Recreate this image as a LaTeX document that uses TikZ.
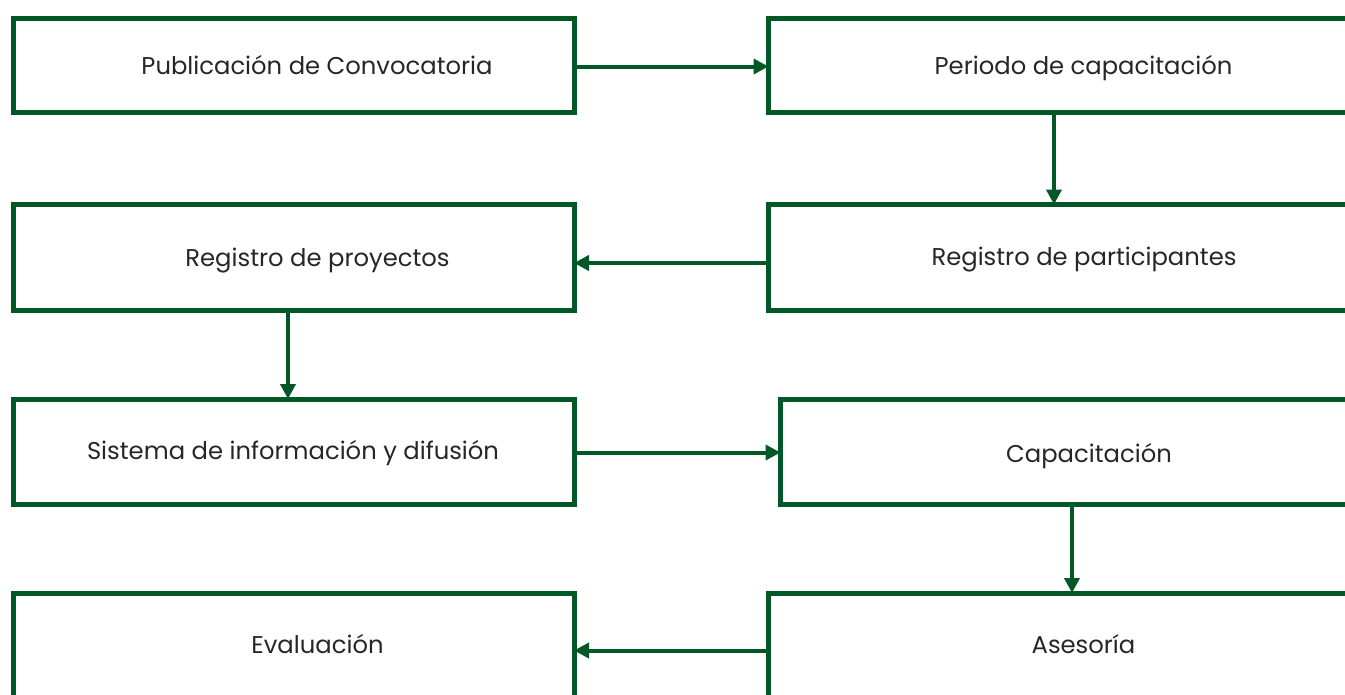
\documentclass[tikz,border=0pt]{standalone}
\usepackage{fontspec}
\setmainfont{Poppins}
\usetikzlibrary{arrows.meta}
\definecolor{dgreen}{RGB}{0,88,38}
\definecolor{txt}{RGB}{38,38,38}
\begin{document}
\begin{tikzpicture}[x=0.75pt,y=-0.75pt,
  box/.style={draw=dgreen,line width=3.75pt,rectangle,outer sep=0pt,inner sep=0pt},
  lbl/.style={text=txt,anchor=base,inner sep=0pt,font=\fontsize{18.2pt}{20pt}\selectfont},
  arr/.style={draw=dgreen,line width=3pt,-{Triangle[length=11.25pt,width=11.25pt]}}]
\useasboundingbox (0,0) rectangle (1345,694);
\clip (0,0) rectangle (1345,694);
\node[box,minimum width=420.375pt,minimum height=70.5pt] (A) at (293.75,65) {};
\node[box,minimum width=473.625pt,minimum height=70.5pt] (B) at (1084.25,65) {};
\node[box,minimum width=473.625pt,minimum height=79.5pt] (C) at (1084.25,257.5) {};
\node[box,minimum width=420.375pt,minimum height=79.5pt] (D) at (293.75,257.5) {};
\node[box,minimum width=420.375pt,minimum height=79.125pt] (E) at (293.75,451.75) {};
\node[box,minimum width=464.625pt,minimum height=79.125pt] (F) at (1090.25,451.75) {};
\node[box,minimum width=473.625pt,minimum height=95.25pt] (G) at (1084.25,656.5) {};
\node[box,minimum width=420.375pt,minimum height=95.25pt] (H) at (293.75,656.5) {};
\node[lbl] (tA) at (317,74.5) {Publicación de Convocatoria};
\node[lbl] (tB) at (1083.5,74.5) {Periodo de capacitación};
\node[lbl] (tC) at (1084,265) {Registro de participantes};
\node[lbl] (tD) at (317.5,266.5) {Registro de proyectos};
\node[lbl] (tE) at (293,459.5) {Sistema de información y difusión};
\node[lbl] (tF) at (1089,462.5) {Capacitación};
\node[lbl] (tG) at (1083.5,653.5) {Asesoría};
\node[lbl] (tH) at (317.5,653.5) {Evaluación};
\draw[arr] (A.east |- 0,66.5) -- (B.west |- 0,66.5);
\draw[arr] (B.south -| 1054,0) -- (C.north -| 1054,0);
\draw[arr] (C.west |- 0,263) -- (D.east |- 0,263);
\draw[arr] (D.south -| 288,0) -- (E.north -| 288,0);
\draw[arr] (E.east |- 0,452.5) -- (F.west |- 0,452.5);
\draw[arr] (F.south -| 1072,0) -- (G.north -| 1072,0);
\draw[arr] (G.west |- 0,650.5) -- (H.east |- 0,650.5);
\end{tikzpicture}
\end{document}
